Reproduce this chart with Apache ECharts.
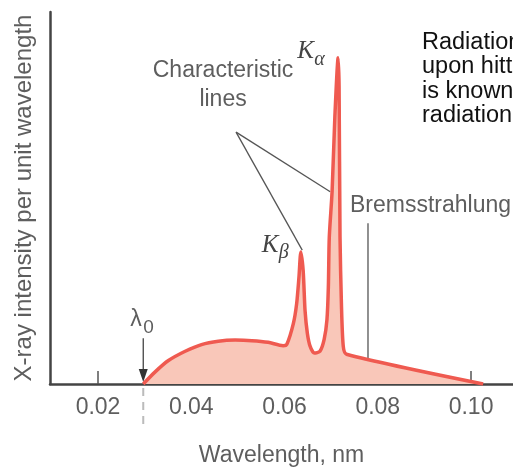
<!DOCTYPE html>
<html>
<head>
<meta charset="utf-8">
<script src="https://cdn.jsdelivr.net/npm/echarts@6/dist/echarts.min.js"></script>
<style>
html,body{margin:0;padding:0;background:#fff;}
#chart{width:513px;height:472px;}
</style>
</head>
<body>
<div id="chart"></div>
<script>
// spectrum: wavelength (nm) / relative intensity
var wavelength = [0.0297, 0.0322, 0.0351, 0.0387, 0.0422, 0.0458, 0.0494, 0.0530, 0.0565, 0.0597,
	0.0605, 0.0619, 0.0626, 0.0631, 0.0635, 0.0640, 0.0644, 0.0649, 0.0655, 0.0664, 0.0676, 0.0685, 0.0691, 0.0694,
	0.0696, 0.0702, 0.0708, 0.0715, 0.0717, 0.0719, 0.0722, 0.0726, 0.0733, 0.1026];
var intensity = [0, 3.2, 6.3, 8.8, 10.6, 11.5, 11.8, 11.65, 11.2, 10.3,
	10.7, 16.3, 21.6, 28.8, 35.5, 30.4, 19.7, 13.6, 10.1, 8.3, 8.8, 12.0, 17.3, 26.1,
	39.5, 51.7, 72.0, 87.7, 80.0, 39.5, 21.6, 10.1, 8.0, 0];
var xTicks = [0.02, 0.04, 0.06, 0.08, 0.10];
var lambda0 = 0.0297;

// annotation anchors (data units)
var linesAnchor = [0.0496, 67.7];
var kAlphaTip = [0.0698, 51.7];
var kBetaTip = [0.0638, 36.0];
var bremsTop = [0.0779, 43.2];
var bremsEnd = [0.0779, 7.0];
var lambdaArrowTop = [lambda0, 12.3];

var noteLines = ['Radiation', 'upon hitting', 'is known', 'radiation'];

var GRAY = '#5e5e5e';
var FONT = '"Liberation Sans", Arial, sans-serif';
var SERIF = '"Liberation Serif", "Times New Roman", serif';

var data = [];
for (var i = 0; i < wavelength.length; i++) {
	data.push([wavelength[i], intensity[i]]);
}

var chart = echarts.init(document.getElementById('chart'));

chart.setOption({
	animation: false,
	grid: {left: 50, right: 0, top: 12, bottom: 85},
	xAxis: {
		type: 'value',
		min: 0.0097,
		max: 0.109,
		name: 'Wavelength, nm',
		nameLocation: 'middle',
		nameGap: 60,
		nameTextStyle: {color: GRAY, fontSize: 23, fontFamily: FONT},
		axisLine: {lineStyle: {color: '#444', width: 2.5}},
		axisTick: {show: true, inside: true, length: 13, customValues: xTicks, lineStyle: {color: '#555', width: 1.5}},
		axisLabel: {
			customValues: xTicks,
			formatter: function (v) { return v.toFixed(2); },
			color: GRAY, fontSize: 23, fontFamily: FONT, margin: 12
		},
		splitLine: {show: false}
	},
	yAxis: {
		type: 'value',
		min: 0,
		max: 100,
		name: 'X-ray intensity per unit wavelength',
		nameLocation: 'middle',
		nameGap: 14,
		nameTextStyle: {color: GRAY, fontSize: 24, fontFamily: FONT},
		axisLine: {show: true, lineStyle: {color: '#444', width: 2.5}},
		axisTick: {show: false},
		axisLabel: {show: false},
		splitLine: {show: false}
	},
	series: [{
		type: 'line',
		data: data,
		symbol: 'none',
		smooth: 0.25,
		lineStyle: {color: '#ef5a50', width: 3.5},
		areaStyle: {color: '#f9c7b9', opacity: 1}
	}]
});

function px(p) {
	return chart.convertToPixel({gridIndex: 0}, p);
}

var la = px(linesAnchor), ka = px(kAlphaTip), kb = px(kBetaTip);
var bt = px(bremsTop), be = px(bremsEnd);
var l0 = px([lambda0, 0]), lt = px(lambdaArrowTop);
var kaPeak = px([0.0715, 87.7]), kbPeak = px([0.0637, 35.7]);

var graphics = [
	{type: 'line', shape: {x1: la[0], y1: la[1], x2: ka[0], y2: ka[1]}, style: {stroke: '#555', lineWidth: 1.3}},
	{type: 'line', shape: {x1: la[0], y1: la[1], x2: kb[0], y2: kb[1]}, style: {stroke: '#555', lineWidth: 1.3}},
	{type: 'line', shape: {x1: bt[0], y1: bt[1], x2: be[0], y2: be[1]}, style: {stroke: '#555', lineWidth: 1.3}},
	// lambda0 arrow
	{type: 'line', shape: {x1: lt[0], y1: lt[1], x2: l0[0], y2: l0[1] - 8}, style: {stroke: '#444', lineWidth: 1.3}},
	{type: 'polygon', shape: {points: [[l0[0] - 4.5, l0[1] - 15], [l0[0] + 4.5, l0[1] - 15], [l0[0], l0[1] - 2]]}, style: {fill: '#333'}},
	{type: 'line', shape: {x1: l0[0], y1: l0[1] + 4, x2: l0[0], y2: l0[1] + 44}, style: {stroke: '#bbb', lineWidth: 2, lineDash: [8, 6]}},
	{type: 'text', x: lt[0] - 13, y: lt[1] - 19, style: {text: 'λ', fontSize: 23, fontFamily: FONT, fill: GRAY, verticalAlign: 'middle'}},
	{type: 'text', x: lt[0] + 0, y: lt[1] - 10, style: {text: '0', fontSize: 19, fontFamily: FONT, fill: GRAY, verticalAlign: 'middle'}},
	// K alpha / K beta
	{type: 'text', x: kaPeak[0] - 41, y: kaPeak[1] - 6, style: {text: 'K', fontSize: 25, fontFamily: SERIF, fontStyle: 'italic', fill: '#444', verticalAlign: 'middle'}},
	{type: 'text', x: kaPeak[0] - 24, y: kaPeak[1] + 2, style: {text: 'α', fontSize: 20, fontFamily: SERIF, fontStyle: 'italic', fill: '#444', verticalAlign: 'middle'}},
	{type: 'text', x: kbPeak[0] - 40, y: kbPeak[1] - 6, style: {text: 'K', fontSize: 25, fontFamily: SERIF, fontStyle: 'italic', fill: '#444', verticalAlign: 'middle'}},
	{type: 'text', x: kbPeak[0] - 23, y: kbPeak[1] + 2, style: {text: 'β', fontSize: 20, fontFamily: SERIF, fontStyle: 'italic', fill: '#444', verticalAlign: 'middle'}},
	{type: 'text', x: la[0] - 13, y: la[1] - 47, style: {text: 'Characteristic\nlines', fontSize: 23, fontFamily: FONT, fill: GRAY, align: 'center', verticalAlign: 'middle', lineHeight: 29}},
	{type: 'text', x: bt[0] - 18, y: bt[1] - 18, style: {text: 'Bremsstrahlung', fontSize: 23, fontFamily: FONT, fill: GRAY, verticalAlign: 'middle'}},
	// note on the right
	{type: 'text', x: 422, y: 30, style: {text: noteLines.join('\n'), fontSize: 23.5, fontFamily: FONT, fill: '#111', verticalAlign: 'top', lineHeight: 24.5}}
];

chart.setOption({graphic: graphics});
</script>
</body>
</html>
